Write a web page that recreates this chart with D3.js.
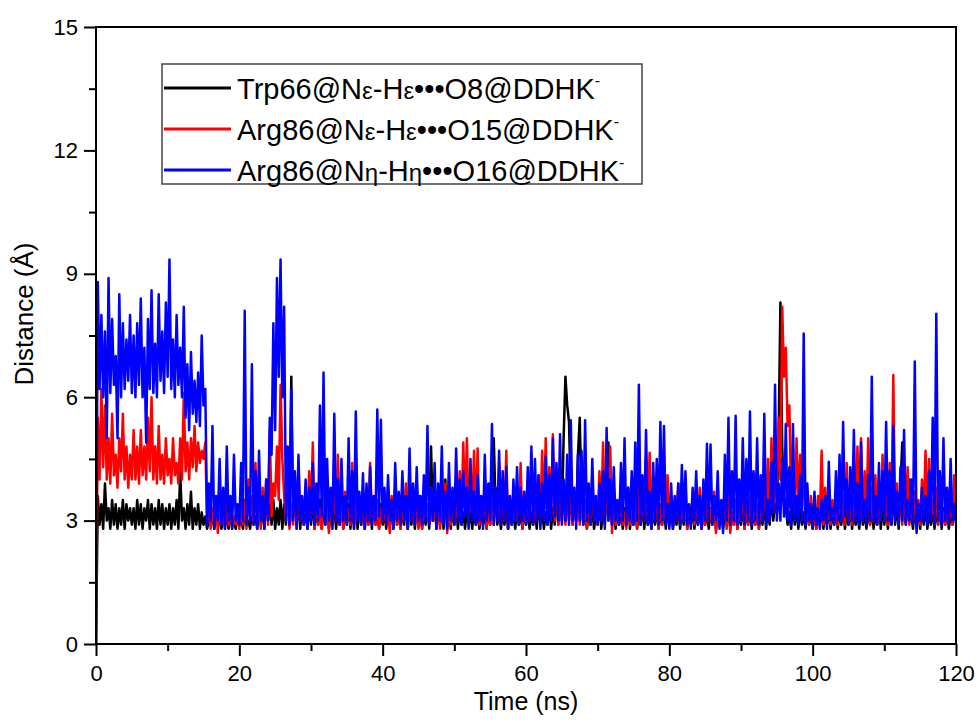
<!DOCTYPE html>
<html>
<head>
<meta charset="utf-8">
<script src="https://cdn.jsdelivr.net/npm/d3@7"></script>
<style>
  html, body { margin: 0; padding: 0; background: #fff; }
  svg { display: block; font-family: "Liberation Sans", Arial, sans-serif; }
</style>
</head>
<body>
<svg id="chart" width="978" height="727"></svg>
<script>
// ---- data (Distance in Å, sampled every 0.25 ns from 0 to 120 ns) ----
const timeStep = 0.25;
const xTicksMajor = [0, 20, 40, 60, 80, 100, 120];
const xTicksMinor = [10, 30, 50, 70, 90, 110];
const yTicksMajor = [0, 3, 6, 9, 12, 15];
const yTicksMinor = [1.5, 4.5, 7.5, 10.5, 13.5];
const seriesNames = [
  ["Trp66@N", "ε", "-H", "ε", "•••O8@DDHK"],
  ["Arg86@N", "ε", "-H", "ε", "•••O15@DDHK"],
  ["Arg86@N", "η", "-H", "η", "•••O16@DDHK"]
];
const seriesColors = ["#000000", "#ff0000", "#0000ff"];

const trp66 = [0,
  3.6, 2.9, 3.4, 2.8, 3.9, 3.0, 3.3, 2.8, 3.5, 2.9, 3.4, 2.8, 3.3, 2.9, 3.5, 2.8, 3.4, 3.0, 3.3, 2.9,
  3.3, 2.8, 3.5, 2.9, 3.4, 2.8, 3.3, 3.0, 3.5, 2.8, 3.4, 2.9, 3.3, 2.8, 3.5, 2.9, 3.4, 2.8, 3.3, 2.9,
  3.4, 2.8, 3.3, 2.9, 3.5, 2.8, 4.2, 3.0, 3.3, 2.8, 3.4, 2.9, 3.7, 2.8, 3.3, 2.9, 3.4, 2.8, 3.2, 2.9,
  3.1, 2.8, 3.0, 2.9, 3.1, 2.8, 3.2, 2.9, 3.0, 2.8, 3.1, 2.9, 3.0, 2.8, 3.1, 2.9, 3.0, 2.8, 3.1, 2.9,
  3.1, 2.8, 3.2, 2.9, 3.0, 2.8, 3.2, 2.9, 3.1, 2.8, 3.6, 2.9, 3.3, 2.8, 3.8, 3.0, 3.4, 2.9, 3.5, 2.8,
  3.3, 2.9, 3.5, 2.8, 3.4, 2.9, 4.5, 3.0, 6.5, 3.1, 4.0, 2.9, 3.5, 2.8, 3.4, 2.9, 3.3, 2.8, 3.4, 2.9,
  3.6, 2.8, 3.3, 2.9, 3.5, 2.8, 3.3, 2.9, 3.6, 2.8, 3.2, 2.9, 3.4, 2.8, 3.3, 2.9, 3.6, 2.8, 3.3, 2.9,
  3.4, 2.8, 3.3, 2.9, 3.7, 2.8, 3.4, 2.9, 3.5, 2.8, 3.3, 2.9, 3.4, 2.8, 3.5, 2.9, 3.2, 2.8, 3.4, 2.9,
  3.2, 2.8, 3.5, 2.9, 3.3, 2.8, 3.6, 2.9, 3.4, 2.8, 3.3, 2.9, 3.6, 2.8, 3.4, 2.9, 3.3, 2.8, 3.5, 2.9,
  3.6, 2.8, 3.3, 2.9, 3.4, 2.8, 4.8, 3.0, 3.5, 2.8, 3.4, 2.9, 3.3, 2.8, 4.0, 2.9, 3.4, 2.8, 3.3, 2.9,
  3.4, 2.8, 3.3, 2.9, 3.2, 2.8, 3.3, 2.9, 3.2, 2.8, 3.3, 2.9, 3.2, 2.8, 3.3, 2.9, 3.2, 2.8, 3.3, 2.9,
  4.0, 5.0, 3.4, 2.9, 3.3, 2.8, 3.2, 2.9, 3.3, 2.8, 3.4, 2.9, 3.2, 2.8, 3.3, 2.9, 3.2, 2.8, 3.3, 2.9,
  3.3, 2.8, 3.2, 2.9, 3.3, 2.8, 3.5, 2.9, 3.3, 2.8, 3.2, 2.9, 3.4, 2.8, 3.3, 2.9, 3.8, 2.9, 3.5, 3.0,
  5.0, 6.5, 5.8, 5.4, 3.6, 2.9, 3.6, 3.0, 4.6, 5.5, 3.4, 2.9, 3.3, 2.8, 3.2, 2.9, 3.3, 2.8, 3.2, 2.9,
  3.5, 2.8, 3.3, 2.9, 3.8, 4.9, 3.3, 2.9, 3.3, 2.8, 3.2, 2.9, 3.4, 2.8, 3.3, 2.9, 3.8, 2.8, 3.2, 2.9,
  3.3, 2.8, 3.2, 2.9, 3.4, 2.8, 3.3, 2.9, 3.2, 2.8, 3.3, 2.9, 3.3, 2.8, 3.2, 2.9, 3.4, 2.8, 3.3, 2.9,
  3.3, 2.8, 3.2, 2.9, 3.4, 2.8, 3.3, 2.9, 3.4, 2.8, 3.2, 2.9, 3.3, 2.8, 3.2, 2.9, 3.3, 2.8, 3.2, 2.9,
  3.2, 2.8, 3.3, 2.9, 3.4, 2.8, 3.2, 2.9, 3.3, 2.8, 3.2, 2.9, 3.3, 2.8, 3.2, 2.9, 3.3, 2.8, 3.2, 2.9,
  3.4, 2.8, 3.3, 2.9, 3.3, 2.8, 3.2, 2.9, 3.3, 2.8, 3.2, 2.9, 3.5, 2.8, 3.3, 2.9, 3.7, 3.0, 3.4, 3.2,
  5.0, 8.3, 4.8, 3.6, 3.3, 2.9, 3.2, 2.8, 3.5, 2.9, 3.3, 2.8, 3.3, 2.9, 3.2, 2.8, 3.3, 2.9, 3.2, 2.8,
  3.5, 2.8, 3.3, 2.9, 3.4, 2.8, 3.2, 2.9, 3.3, 2.8, 3.2, 2.9, 3.3, 2.8, 3.2, 2.9, 3.4, 2.8, 3.2, 2.9,
  3.3, 2.8, 3.2, 2.9, 3.2, 2.8, 3.4, 2.9, 3.2, 2.8, 3.3, 2.9, 3.3, 2.8, 3.2, 2.9, 3.6, 2.8, 3.3, 2.9,
  3.4, 2.8, 3.3, 2.9, 3.8, 2.9, 3.4, 2.8, 3.8, 4.9, 3.3, 2.9, 3.5, 4.0, 3.2, 2.8, 3.3, 2.9, 3.3, 2.8,
  3.3, 2.9, 3.4, 2.8, 3.2, 2.9, 3.3, 2.8, 3.3, 2.9, 3.5, 2.8, 3.3, 2.9, 3.3, 2.8, 3.2, 2.9, 3.2, 3.0
];

const arg86Ne = [0,
  5.5, 4.0, 6.2, 4.3, 5.8, 4.0, 5.0, 3.9, 5.6, 4.1, 4.6, 3.8, 5.0, 4.2, 5.6, 4.0, 4.8, 3.8, 4.6, 4.0,
  5.2, 4.0, 4.8, 3.9, 5.2, 4.1, 4.8, 4.0, 5.5, 4.2, 6.0, 4.0, 4.8, 3.9, 5.3, 4.0, 4.6, 3.9, 5.0, 4.1,
  4.5, 3.9, 5.0, 4.1, 4.4, 3.9, 5.0, 4.0, 6.1, 4.2, 4.9, 4.0, 5.0, 4.3, 5.3, 4.2, 4.9, 4.4, 4.7, 4.5,
  4.9, 3.0, 3.4, 2.8, 3.3, 2.9, 3.6, 2.7, 3.4, 2.9, 3.1, 2.8, 3.6, 2.9, 3.3, 2.8, 3.1, 2.9, 3.3, 2.8,
  3.4, 2.9, 3.5, 2.8, 4.0, 3.0, 3.6, 2.9, 4.4, 3.0, 3.4, 2.8, 3.8, 3.0, 4.0, 2.9, 5.2, 3.1, 3.9, 3.6,
  4.8, 3.5, 6.3, 4.5, 3.6, 3.0, 3.6, 2.8, 3.4, 2.9, 3.8, 2.8, 4.3, 3.0, 3.3, 2.9, 3.8, 3.0, 4.2, 3.1,
  4.9, 2.8, 3.6, 2.9, 3.3, 2.8, 4.0, 3.0, 3.5, 2.7, 3.5, 2.9, 3.9, 3.0, 4.6, 2.9, 3.4, 2.8, 3.7, 3.0,
  3.3, 2.9, 4.4, 2.8, 3.6, 3.0, 3.4, 2.9, 3.2, 2.8, 3.4, 2.9, 4.4, 3.0, 3.3, 2.9, 3.5, 2.8, 3.3, 3.0,
  3.3, 2.9, 3.3, 2.7, 3.6, 3.0, 3.4, 2.9, 3.2, 2.8, 3.4, 3.0, 3.9, 2.8, 3.3, 3.0, 3.4, 2.9, 3.3, 2.8,
  3.2, 2.8, 3.6, 3.0, 3.4, 2.9, 3.8, 3.0, 3.2, 2.9, 3.4, 2.8, 3.5, 3.0, 3.9, 2.7, 3.3, 2.9, 3.3, 3.0,
  3.5, 3.0, 4.2, 3.1, 4.9, 3.2, 5.0, 3.0, 3.9, 3.2, 4.7, 3.0, 4.75, 2.9, 3.5, 3.0, 4.0, 2.8, 3.3, 2.9,
  3.6, 2.9, 3.8, 3.0, 4.4, 2.9, 4.0, 3.0, 4.7, 2.8, 3.5, 2.9, 3.3, 3.0, 3.8, 2.9, 4.4, 2.8, 3.4, 2.9,
  3.9, 3.0, 4.6, 2.9, 3.6, 3.0, 4.1, 3.0, 4.7, 3.1, 5.0, 3.0, 4.3, 3.1, 5.1, 3.0, 4.2, 2.9, 3.8, 3.0,
  3.9, 2.9, 3.6, 3.0, 3.6, 2.9, 3.5, 3.0, 4.0, 2.9, 3.4, 3.0, 3.5, 2.8, 3.6, 2.9, 4.1, 3.0, 3.3, 2.9,
  4.2, 3.0, 4.9, 3.1, 4.1, 3.0, 4.8, 2.7, 3.5, 2.9, 3.2, 3.0, 3.8, 2.9, 3.2, 2.8, 3.6, 2.9, 3.4, 3.0,
  3.5, 2.8, 4.0, 2.9, 3.6, 3.0, 4.5, 3.0, 4.65, 2.9, 3.3, 3.0, 3.7, 2.8, 3.4, 2.9, 3.6, 3.0, 4.1, 2.9,
  3.6, 2.9, 3.4, 3.0, 3.9, 2.9, 3.3, 3.0, 3.4, 2.8, 3.2, 3.0, 3.6, 2.9, 3.4, 3.0, 3.8, 2.8, 3.2, 2.9,
  3.5, 3.0, 3.3, 2.9, 3.7, 2.7, 3.1, 2.9, 3.4, 3.0, 3.4, 2.8, 3.8, 2.7, 3.2, 2.9, 3.5, 2.8, 3.3, 3.0,
  3.9, 2.8, 3.5, 2.9, 3.6, 3.0, 3.3, 2.9, 3.4, 2.8, 3.6, 3.0, 4.2, 3.1, 4.5, 3.0, 5.0, 3.2, 4.6, 3.4,
  5.5, 4.0, 8.2, 6.5, 7.2, 5.3, 5.8, 3.4, 4.4, 3.2, 5.0, 3.4, 4.6, 3.2, 4.75, 3.0, 3.5, 2.9, 3.6, 3.0,
  3.1, 2.8, 3.6, 3.0, 4.7, 2.9, 3.8, 3.0, 3.2, 2.9, 3.5, 3.0, 3.3, 2.9, 4.0, 3.0, 3.6, 2.9, 4.4, 3.0,
  3.5, 2.9, 4.0, 3.0, 4.8, 3.1, 5.0, 3.0, 4.2, 3.1, 5.0, 2.9, 3.8, 3.0, 4.1, 2.9, 3.9, 3.0, 4.6, 3.0,
  3.8, 2.9, 4.4, 3.0, 6.54, 3.1, 3.9, 2.9, 3.8, 2.9, 3.6, 3.0, 4.3, 2.9, 3.4, 3.0, 3.7, 2.8, 3.5, 2.9,
  4.0, 3.1, 4.7, 3.0, 4.5, 3.1, 3.5, 2.9, 3.8, 2.9, 3.5, 3.0, 3.2, 2.9, 3.6, 3.0, 3.5, 2.9, 4.1, 3.0
];

const arg86Nh = [0,
  8.8, 6.2, 8.0, 6.0, 7.6, 5.0, 8.9, 6.1, 7.9, 6.3, 7.0, 5.0, 8.5, 6.0, 7.8, 6.2, 7.4, 6.4, 8.0, 6.1,
  7.5, 6.0, 7.8, 6.3, 8.4, 6.0, 7.2, 4.9, 7.9, 6.2, 8.6, 6.1, 7.3, 6.0, 8.5, 6.4, 7.6, 6.1, 8.3, 6.5,
  9.35, 6.2, 7.4, 6.0, 8.0, 6.3, 7.2, 6.0, 8.2, 5.5, 6.8, 5.2, 7.1, 5.6, 6.4, 5.4, 6.6, 5.3, 7.5, 5.8,
  6.2, 2.9, 3.9, 3.0, 5.3, 2.8, 3.6, 3.0, 4.5, 2.9, 3.8, 2.8, 4.8, 3.0, 3.6, 2.8, 4.6, 3.0, 3.4, 2.9,
  4.4, 3.0, 8.1, 2.9, 3.8, 3.0, 6.8, 2.9, 4.2, 2.8, 4.7, 3.0, 3.6, 2.8, 4.0, 3.0, 5.5, 4.6, 7.8, 5.2,
  8.9, 6.5, 9.35, 6.0, 8.2, 3.0, 4.8, 2.9, 6.2, 3.0, 4.2, 2.8, 4.6, 3.0, 3.6, 2.9, 4.0, 2.8, 3.8, 3.0,
  4.4, 2.9, 3.9, 3.0, 5.8, 3.1, 6.6, 2.9, 4.5, 3.0, 3.8, 2.8, 5.6, 3.0, 4.0, 2.9, 4.5, 3.0, 3.6, 2.9,
  5.0, 3.0, 4.2, 2.8, 5.65, 3.0, 3.7, 2.9, 4.15, 2.8, 3.9, 3.0, 4.3, 2.9, 3.6, 3.0, 5.7, 3.1, 5.45, 3.0,
  3.8, 2.9, 4.1, 3.0, 3.5, 2.8, 4.4, 3.0, 3.7, 2.9, 4.2, 3.0, 3.6, 2.8, 4.75, 3.0, 3.9, 2.9, 4.3, 3.0,
  3.6, 2.9, 4.1, 3.0, 5.3, 2.9, 3.8, 3.0, 4.4, 2.8, 3.9, 3.0, 4.8, 2.9, 3.7, 2.8, 4.4, 3.0, 3.8, 2.9,
  4.75, 3.0, 4.0, 2.9, 4.2, 3.1, 3.8, 2.8, 4.5, 3.0, 3.7, 2.9, 4.1, 3.0, 3.6, 2.8, 4.6, 3.0, 3.9, 3.0,
  5.35, 2.9, 3.8, 3.0, 4.7, 2.9, 4.2, 3.0, 4.3, 2.8, 3.6, 2.9, 4.0, 3.0, 4.3, 2.9, 3.8, 3.0, 3.7, 2.9,
  4.3, 3.0, 4.8, 2.9, 4.5, 3.0, 4.1, 2.8, 3.9, 3.0, 4.55, 2.9, 4.1, 3.0, 5.0, 3.1, 4.4, 3.0, 5.1, 2.9,
  4.0, 3.0, 4.6, 2.9, 5.44, 3.0, 3.8, 2.8, 4.6, 3.0, 4.7, 2.9, 5.44, 3.0, 3.9, 2.9, 4.5, 3.0, 3.6, 2.9,
  3.9, 3.0, 4.2, 2.8, 5.25, 3.0, 4.0, 2.9, 4.3, 3.0, 3.5, 2.9, 4.4, 3.0, 5.0, 2.9, 3.8, 3.0, 4.2, 2.9,
  4.9, 3.0, 6.3, 2.9, 4.1, 3.0, 5.2, 2.9, 3.7, 2.8, 4.4, 3.0, 4.5, 2.9, 5.4, 3.0, 5.3, 2.9, 3.4, 2.8,
  3.9, 2.8, 3.6, 3.0, 3.9, 2.9, 4.35, 3.0, 4.2, 2.9, 3.4, 2.8, 3.8, 3.0, 4.2, 2.9, 3.6, 2.8, 4.0, 3.0,
  4.87, 3.0, 4.85, 2.9, 3.6, 3.0, 4.2, 2.8, 3.5, 2.7, 4.6, 3.0, 5.5, 2.9, 4.2, 3.0, 5.55, 2.9, 4.0, 3.0,
  5.0, 2.9, 4.5, 3.0, 5.65, 2.9, 4.2, 3.0, 5.0, 2.9, 4.1, 3.0, 5.6, 2.9, 3.5, 3.0, 4.4, 3.2, 6.3, 3.0,
  3.9, 3.0, 4.5, 3.1, 5.35, 3.0, 4.3, 2.9, 5.35, 3.0, 3.6, 2.9, 4.1, 3.0, 7.55, 2.9, 3.9, 3.0, 3.4, 2.8,
  3.7, 2.9, 3.3, 2.8, 3.5, 3.0, 3.6, 2.8, 4.43, 3.0, 3.3, 2.9, 4.2, 3.0, 4.6, 3.0, 5.4, 3.1, 4.0, 2.9,
  4.3, 3.0, 5.2, 3.0, 3.9, 2.9, 4.9, 3.0, 3.5, 2.9, 4.1, 3.0, 6.5, 3.0, 3.6, 2.9, 4.4, 3.0, 4.2, 3.0,
  5.4, 3.0, 4.2, 2.9, 5.3, 3.0, 3.7, 2.9, 4.3, 3.0, 5.2, 2.9, 3.5, 3.0, 4.0, 2.9, 6.87, 2.7, 3.4, 3.0,
  3.8, 3.0, 3.6, 2.9, 4.2, 3.0, 5.5, 2.9, 8.03, 3.0, 4.2, 2.9, 5.0, 3.0, 3.8, 2.9, 4.5, 3.0, 3.4, 2.9
];

const seriesValues = [trp66, arg86Ne, arg86Nh];

// ---- layout ----
const svg = d3.select("#chart");
const mLeft = 96, mRight = 956, mTop = 27, mBottom = 644;
const x = d3.scaleLinear().domain([0, 120]).range([mLeft, mRight]);
const y = d3.scaleLinear().domain([0, 15]).range([mBottom, mTop]);

svg.append("rect").attr("width", 978).attr("height", 727).attr("fill", "#fff");

svg.append("clipPath").attr("id", "plotclip")
  .append("rect").attr("x", mLeft).attr("y", mTop)
  .attr("width", mRight - mLeft).attr("height", mBottom - mTop);

// series
const line = d3.line()
  .x((d, i) => x(i * timeStep))
  .y(d => y(d));

const gLines = svg.append("g").attr("clip-path", "url(#plotclip)");
seriesValues.forEach((vals, k) => {
  gLines.append("path")
    .datum(vals)
    .attr("d", line)
    .attr("fill", "none")
    .attr("stroke", seriesColors[k])
    .attr("stroke-width", 2.5)
    .attr("stroke-linejoin", "round");
});

// frame
svg.append("rect")
  .attr("x", mLeft).attr("y", mTop)
  .attr("width", mRight - mLeft).attr("height", mBottom - mTop)
  .attr("fill", "none").attr("stroke", "#000").attr("stroke-width", 2);

// axes
const fontTick = 22;
const xAxis = svg.append("g").attr("transform", `translate(0,${mBottom})`)
  .call(d3.axisBottom(x).tickValues(xTicksMajor).tickSize(12).tickPadding(9).tickFormat(d3.format("d")));
const xAxisMinor = svg.append("g").attr("transform", `translate(0,${mBottom})`)
  .call(d3.axisBottom(x).tickValues(xTicksMinor).tickSize(7).tickFormat(""));
const yAxis = svg.append("g").attr("transform", `translate(${mLeft},0)`)
  .call(d3.axisLeft(y).tickValues(yTicksMajor).tickSize(12).tickPadding(6).tickFormat(d3.format("d")));
const yAxisMinor = svg.append("g").attr("transform", `translate(${mLeft},0)`)
  .call(d3.axisLeft(y).tickValues(yTicksMinor).tickSize(7).tickFormat(""));

[xAxis, xAxisMinor, yAxis, yAxisMinor].forEach(g => {
  g.select(".domain").remove();
  g.selectAll(".tick line").attr("stroke", "#000").attr("stroke-width", 2);
  g.selectAll(".tick text")
    .attr("fill", "#000")
    .style("font-family", '"Liberation Sans", Arial, sans-serif')
    .style("font-size", fontTick + "px");
});

// axis titles
svg.append("text")
  .attr("x", (mLeft + mRight) / 2).attr("y", 710)
  .attr("text-anchor", "middle")
  .style("font-size", "25px")
  .text("Time (ns)");

svg.append("text")
  .attr("transform", `translate(33,314) rotate(-90)`)
  .attr("text-anchor", "middle")
  .style("font-size", "26px")
  .text("Distance (Å)");

// legend
const lg = svg.append("g");
lg.append("rect")
  .attr("x", 162).attr("y", 64).attr("width", 480).attr("height", 120)
  .attr("fill", "#fff").attr("stroke", "#444").attr("stroke-width", 1.5);

const rowY = [88, 129, 170];
seriesNames.forEach((parts, k) => {
  lg.append("line")
    .attr("x1", 164).attr("x2", 231)
    .attr("y1", rowY[k]).attr("y2", rowY[k])
    .attr("stroke", seriesColors[k]).attr("stroke-width", 3);
  const t = lg.append("text")
    .attr("x", 237).attr("y", rowY[k] + 11)
    .style("font-size", "29px");
  t.append("tspan").text(parts[0]);
  t.append("tspan").style("font-size", "24px").text(parts[1]);
  t.append("tspan").text(parts[2]);
  t.append("tspan").style("font-size", "24px").text(parts[3]);
  t.append("tspan").text(parts[4]);
  t.append("tspan").attr("dy", -13).style("font-size", "16px").text("-");
});
</script>
</body>
</html>
